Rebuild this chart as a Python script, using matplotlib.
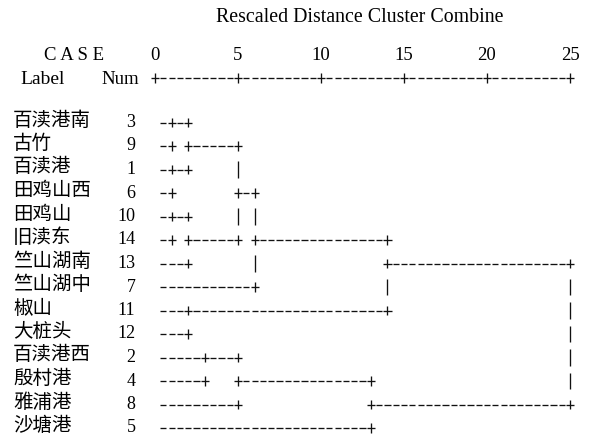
import matplotlib
matplotlib.use("Agg")
import matplotlib.pyplot as plt
from matplotlib.collections import LineCollection

# ---------------- data ----------------
labels = ['百渎港南', '古竹', '百渎港', '田鸡山西', '田鸡山', '旧渎东', '竺山湖南',
          '竺山湖中', '椒山', '大桩头', '百渎港西', '殷村港', '雅浦港', '沙塘港']
nums = [3, 9, 1, 6, 10, 14, 13, 7, 11, 12, 2, 4, 8, 5]
tick_values = [0, 5, 10, 15, 20, 25]
title = 'Rescaled Distance Cluster Combine'

# SPSS text dendrogram rows (one character = 0.5 rescaled-distance units)
tree_rows = [
    " -+-+",
    " -+ +-----+",
    " -+-+     |",
    " -+       +-+",
    " -+-+     | |",
    " -+ +-----+ +---------------+",
    " ---+       |               +---------------------+",
    " -----------+               |                     |",
    " ---+-----------------------+                     |",
    " ---+                                             |",
    " -----+---+                                       |",
    " -----+   +---------------+                       |",
    " ---------+               +-----------------------+",
    " -------------------------+",
]

# ---------------- layout ----------------
SERIF = ['Liberation Serif', 'DejaVu Serif']
CJK = ['Noto Sans CJK SC', 'DejaVu Sans']
CH = 0.5                       # units per text column
PXU = (570 - 155) / 25.0       # pixels per distance unit
ROW0, ROWH = 122.5, 23.5       # pixel y of first row, row pitch

def yrow(py):
    return (py - ROW0) / ROWH

def xunit(px):
    return (px - 155) / PXU

fig = plt.figure(figsize=(5.94, 4.41), dpi=100)
ax = fig.add_axes([0, 0, 1, 1])
ax.axis('off')
ax.set_xlim(xunit(0), xunit(594))
ax.set_ylim(yrow(441), yrow(0))

# glyph geometry (pixels -> data units)
DASH = 3.1 / PXU
PLUS_H = 4.1 / PXU
PLUS_V = 4.8 / ROWH
BAR_V = 8.3 / ROWH

segs = []
def glyph(ch, x, y):
    if ch == '-':
        segs.append([(x - DASH, y), (x + DASH, y)])
    elif ch == '+':
        segs.append([(x - PLUS_H, y), (x + PLUS_H, y)])
        segs.append([(x, y - PLUS_V), (x, y + PLUS_V)])
    elif ch == '|':
        segs.append([(x, y - BAR_V), (x, y + BAR_V)])

# header
ax.text(xunit(360), yrow(17), title, ha='center', va='center', fontsize=14.3, family=SERIF)
ax.text(xunit(74), yrow(55), 'C A S E', ha='center', va='center', fontsize=13.5, family=SERIF)
for t in tick_values:
    ax.text(t, yrow(55), str(t), ha='center', va='center', fontsize=13.5, family=SERIF)
ax.text(xunit(43), yrow(79), 'Label', ha='center', va='center', fontsize=14, family=SERIF)
ax.text(xunit(120), yrow(79), 'Num', ha='center', va='center', fontsize=13.5, family=SERIF)
ncols = int(max(tick_values) / CH)
for c in range(ncols + 1):
    glyph('+' if (c * CH) in tick_values else '-', c * CH, yrow(78))

# rows
for i, (lab, n, row) in enumerate(zip(labels, nums, tree_rows)):
    ax.text(xunit(13), i - 2.5 / ROWH, lab, ha='left', va='center', fontsize=14, family=CJK)
    ax.text(xunit(135.5), i, str(n), ha='right', va='center', fontsize=13, family=SERIF)
    for c, ch in enumerate(row):
        glyph(ch, c * CH, i)

ax.add_collection(LineCollection(segs, colors='#111111', linewidths=0.95, capstyle='butt'))

fig.savefig('out.png', dpi=100)
